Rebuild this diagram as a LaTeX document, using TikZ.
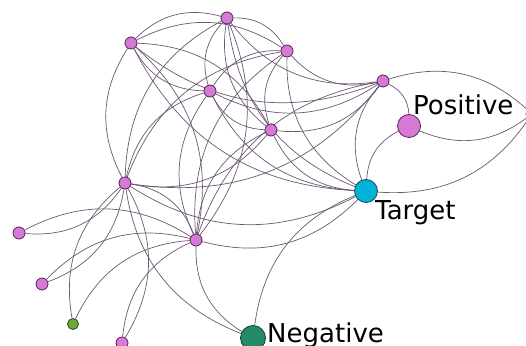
\documentclass[tikz,border=0pt]{standalone}
\usepackage{fontspec}
\setmainfont{DejaVu Sans}
\usetikzlibrary{backgrounds}
\definecolor{orchidc}{RGB}{214,122,214}
\definecolor{orchidd}{RGB}{85,35,85}
\definecolor{tgtc}{RGB}{0,180,215}
\definecolor{tgtd}{RGB}{20,70,90}
\definecolor{negc}{RGB}{34,140,100}
\definecolor{negd}{RGB}{20,60,45}
\definecolor{grnc}{RGB}{105,170,55}
\definecolor{grnd}{RGB}{40,70,25}
\definecolor{linkc}{RGB}{105,88,112}

\begin{document}
\begin{tikzpicture}[
  x=1pt, y=1pt,
  vnode/.style={circle, draw=orchidd, fill=orchidc, line width=0.8pt,
                inner sep=0pt, minimum size=12pt},
  bignode/.style={vnode, minimum size=23pt},
  tgtnode/.style={circle, draw=tgtd, fill=tgtc, line width=0.8pt,
                  inner sep=0pt, minimum size=23pt},
  negnode/.style={circle, draw=negd, fill=negc, line width=0.8pt,
                  inner sep=0pt, minimum size=25pt},
  leafnode/.style={circle, draw=grnd, fill=grnc, line width=0.8pt,
                   inner sep=0pt, minimum size=11pt},
  lbl/.style={anchor=base west, inner sep=0pt, font=\fontsize{26}{30}\selectfont},
  link/.style={draw=linkc, line width=0.7pt},
  bend angle=30
]
\useasboundingbox (0,0) rectangle (526,345);

% Core nodes
\node[vnode] (v1) at (227,327) {};
\node[vnode] (v2) at (131,302) {};
\node[vnode] (v3) at (287,294) {};
\node[vnode] (v4) at (383,264) {};
\node[vnode] (v5) at (210,254) {};
\node[vnode] (v6) at (271,215) {};
\node[vnode] (v7) at (125,162) {};
\node[vnode] (v8) at (196,105) {};
\node[vnode] (v9) at (532,231) {};

% Outer nodes
\node[vnode] (w1) at (19,112) {};
\node[vnode] (w2) at (42,61) {};
\node[leafnode] (w3) at (73,21) {};
\node[vnode] (w4) at (122,2) {};

% Class nodes
\node[bignode] (pos) at (409,219) {};
\node[tgtnode] (tgt) at (366,154) {};
\node[negnode] (neg) at (253,7) {};

% Labels
\node[lbl] (poslbl) at (413,230) {Positive};
\node[lbl] (tgtlbl) at (375,125) {Target};
\node[lbl] (neglbl) at (267,3) {Negative};

% Links
\begin{scope}[on background layer]
\draw[link] (v1) to[bend right] (v2);
\draw[link] (v3) to[bend right] (v2);
\draw[link] (v3) to[bend right] (v1);
\draw[link] (v2) to[bend right] (v7);
\draw[link] (v1) to[bend right] (v7);
\draw[link] (v1) to[bend right] (v5);
\draw[link] (v1) to[bend right] (v4);
\draw[link] (v1) to[bend right] (v6);
\draw[link] (v1) to[bend right] (tgt);
\draw[link] (v8) to[bend right] (v1);
\draw[link] (v5) to[bend right] (v4);
\draw[link] (v3) to[bend right] (v4);
\draw[link] (v6) to[bend right] (v4);
\draw[link] (v7) to[bend right] (v4);
\draw[link] (v4) to[bend right] (tgt);
\draw[link] (v2) to[bend right] (v4);
\draw[link] (v2) to[bend right] (v5);
\draw[link] (v6) to[bend right] (v2);
\draw[link] (v8) to[bend right] (v2);
\draw[link] (v2) to[bend right] (tgt);
\draw[link] (v3) to[bend right] (v5);
\draw[link] (v3) to[bend right] (v6);
\draw[link] (v3) to[bend right] (v7);
\draw[link] (v3) to[bend right] (v8);
\draw[link] (v3) to[bend right] (tgt);
\draw[link] (v4) to[bend right] (v8);
\draw[link] (v5) to[bend right] (v6);
\draw[link] (v5) to[bend right] (v7);
\draw[link] (v5) to[bend right] (v8);
\draw[link] (v5) to[bend right] (tgt);
\draw[link] (v7) to[bend right] (v6);
\draw[link] (v6) to[bend right] (v8);
\draw[link] (v6) to[bend right] (tgt);
\draw[link] (v8) to[bend right] (v7);
\draw[link] (v7) to[bend right] (tgt);
\draw[link] (v8) to[bend right] (tgt);
\draw[link] (pos) to[bend right] (v4);
\draw[link] (pos) to[bend right] (tgt);
\draw[link] (pos) to[bend right] (v9);
\draw[link] (v9) to[bend right] (v4);
\draw[link] (tgt) to[bend right] (v9);
\draw[link] (tgt) to[bend right] (neg);
\draw[link] (v7) to[bend right] (neg);
\draw[link] (v8) to[bend right] (neg);
\draw[link] (w1) to[bend right] (v7);
\draw[link] (v8) to[bend right] (w1);
\draw[link] (w2) to[bend right] (v7);
\draw[link] (v8) to[bend right] (w2);
\draw[link] (v7) to[bend right] (w3);
\draw[link] (v8) to[bend right] (w3);
\draw[link] (w4) to[bend right] (v7);
\draw[link] (v8) to[bend right] (w4);
\end{scope}

\end{tikzpicture}
\end{document}
